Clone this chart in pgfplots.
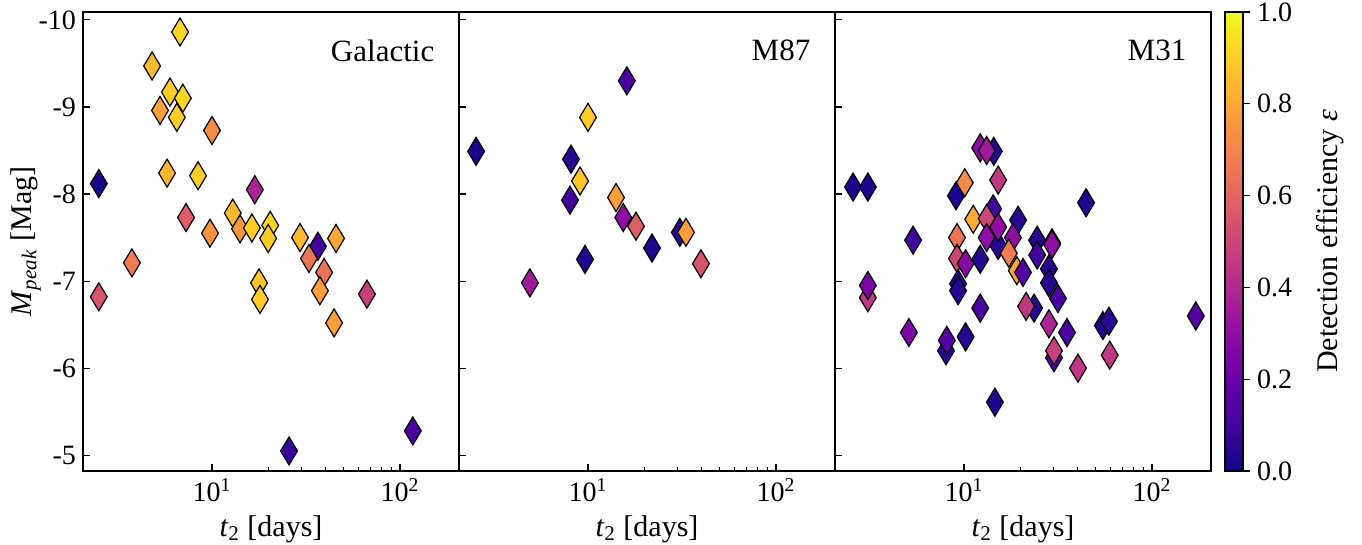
\documentclass[border=0pt]{standalone}
\usepackage{fontspec}
\setmainfont{Liberation Serif}
\usepackage{pgfplots}
\usepackage{pgfplotstable}
\pgfplotsset{compat=1.18}

\pgfplotsset{
  colormap={plasma}{
    rgb255=(13,8,135) rgb255=(65,4,157) rgb255=(106,0,168) rgb255=(143,13,164)
    rgb255=(177,42,144) rgb255=(204,71,120) rgb255=(225,100,98) rgb255=(242,132,75)
    rgb255=(252,166,54) rgb255=(252,206,37) rgb255=(240,249,33)
  },
}
\pgfplotsset{
  every axis/.append style={
    scale only axis,
    tick align=inside,
    major tick length=3.5pt, minor tick length=2pt,
    every tick/.style={black, line width=0.6pt},
    axis line style={line width=0.7pt},
    tick label style={font=\fontsize{14}{16}\selectfont},
    label style={font=\fontsize{15}{17}\selectfont},
    colormap name=plasma,
    point meta min=0, point meta max=1,
  },
}

\pgfplotstableread{
t M e
2.5 -8.12 0.02
2.5 -6.82 0.55
3.75 -7.21 0.68
4.8 -9.47 0.85
5.29 -8.96 0.78
5.98 -9.17 0.9
6.76 -9.86 0.92
7.0 -9.1 0.92
6.5 -8.88 0.9
10.0 -8.73 0.72
5.77 -8.24 0.84
8.43 -8.21 0.9
7.28 -7.73 0.58
9.76 -7.55 0.75
16.9 -8.05 0.38
12.9 -7.78 0.85
14.1 -7.6 0.76
16.3 -7.61 0.9
20.4 -7.64 0.92
19.9 -7.49 0.9
29.4 -7.5 0.85
36.6 -7.4 0.1
32.8 -7.26 0.65
45.7 -7.49 0.8
39.5 -7.1 0.65
37.5 -6.89 0.78
17.8 -6.98 0.88
18.0 -6.79 0.9
44.6 -6.52 0.78
66.7 -6.85 0.48
25.7 -5.05 0.08
117 -5.28 0.12
}\galactic

\pgfplotstableread{
t M e
2.54 -8.49 0.02
4.91 -6.98 0.35
8.12 -8.4 0.05
9.07 -8.15 0.88
8.02 -7.93 0.1
10.0 -8.88 0.9
9.64 -7.25 0.03
16.1 -9.3 0.12
14.1 -7.96 0.78
15.4 -7.73 0.3
18.0 -7.63 0.58
21.9 -7.38 0.03
30.8 -7.56 0.05
33.2 -7.56 0.78
39.9 -7.2 0.55
}\mes

\pgfplotstableread{
t M e
2.57 -8.08 0.03
3.08 -8.08 0.03
3.08 -6.81 0.45
3.08 -6.95 0.25
5.36 -7.47 0.1
5.09 -6.41 0.25
8.02 -6.2 0.05
8.1 -6.32 0.15
10.2 -6.36 0.05
9.07 -7.98 0.03
10.1 -8.13 0.72
11.2 -7.71 0.82
9.18 -7.5 0.65
9.18 -7.26 0.5
10.2 -7.2 0.28
9.3 -6.97 0.03
9.3 -6.89 0.05
12.2 -7.25 0.05
12.2 -6.69 0.12
14.4 -8.49 0.05
12.2 -8.53 0.3
13.2 -8.5 0.35
15.2 -8.16 0.45
14.3 -7.83 0.1
13.2 -7.72 0.5
13.2 -7.5 0.3
15.2 -7.41 0.05
15.2 -7.62 0.3
19.4 -7.7 0.05
18.2 -7.5 0.3
17.3 -7.32 0.68
19.1 -7.12 0.8
20.6 -7.1 0.15
24.5 -7.47 0.05
24.5 -7.3 0.1
29.4 -7.44 0.6
29.4 -7.42 0.3
28.3 -7.14 0.05
28.3 -6.98 0.05
31.6 -6.8 0.12
23.6 -6.69 0.05
21.4 -6.71 0.45
28.3 -6.51 0.38
35.3 -6.41 0.12
30.1 -6.12 0.15
30.1 -6.2 0.48
40.4 -6.0 0.45
44.6 -7.9 0.03
54.8 -6.49 0.03
59.0 -6.54 0.05
59.6 -6.15 0.45
171 -6.6 0.15
14.6 -5.61 0.03
}\mto

\begin{document}
\begin{tikzpicture}
\useasboundingbox (0,0) rectangle (681pt,272.5pt);

\begin{axis}[width=188pt, height=229.5pt, anchor=south west, at={(41.5pt,37pt)},
  xmode=log, xmin=2.06, xmax=206,
  ymin=-10.09, ymax=-4.82, y dir=reverse,
  xtick={10,100}, xticklabels={10\textsuperscript{1},10\textsuperscript{2}},
  ytick={-10,-9,-8,-7,-6,-5}, xtick pos=bottom, ytick pos=left,
  yticklabels={-10,-9,-8,-7,-6,-5},
  xlabel={\textit{t}\textsubscript{2} [days]},
  ylabel={\textit{M}\textsubscript{\textit{peak}} [Mag]},
  y label style={at={(axis description cs:-0.152,0.5)}, anchor=center}]
\addplot[only marks, scatter, point meta=explicit, mark=diamond*, mark size=7pt,
  mark options={xscale=0.8, line width=0.6pt},
  scatter/use mapped color={draw=black, fill=mapped color}]
  table[x=t, y=M, meta=e] {\galactic};
\node[anchor=north east, font=\fontsize{15.5}{17}\selectfont] at (rel axis cs:0.953,0.955) {Galactic};
\end{axis}

\begin{axis}[width=188pt, height=229.5pt, anchor=south west, at={(229.5pt,37pt)},
  xmode=log, xmin=2.06, xmax=206,
  ymin=-10.09, ymax=-4.82, y dir=reverse,
  xtick={10,100}, xticklabels={10\textsuperscript{1},10\textsuperscript{2}},
  ytick={-10,-9,-8,-7,-6,-5}, xtick pos=bottom, ytick pos=left,
  yticklabels={},
  xlabel={\textit{t}\textsubscript{2} [days]}]
\addplot[only marks, scatter, point meta=explicit, mark=diamond*, mark size=7pt,
  mark options={xscale=0.8, line width=0.6pt},
  scatter/use mapped color={draw=black, fill=mapped color}]
  table[x=t, y=M, meta=e] {\mes};
\node[anchor=north east, font=\fontsize{15.5}{17}\selectfont] at (rel axis cs:0.953,0.955) {M87};
\end{axis}

\begin{axis}[width=188pt, height=229.5pt, anchor=south west, at={(417.5pt,37pt)},
  xmode=log, xmin=2.06, xmax=206,
  ymin=-10.09, ymax=-4.82, y dir=reverse,
  xtick={10,100}, xticklabels={10\textsuperscript{1},10\textsuperscript{2}},
  ytick={-10,-9,-8,-7,-6,-5}, xtick pos=bottom, ytick pos=left,
  yticklabels={},
  xlabel={\textit{t}\textsubscript{2} [days]}]
\addplot[only marks, scatter, point meta=explicit, mark=diamond*, mark size=7pt,
  mark options={xscale=0.8, line width=0.6pt},
  scatter/use mapped color={draw=black, fill=mapped color}]
  table[x=t, y=M, meta=e] {\mto};
\node[anchor=north east, font=\fontsize{15.5}{17}\selectfont] at (rel axis cs:0.953,0.955) {M31};
\end{axis}

% colour bar
\begin{axis}[width=9pt, height=229.5pt, anchor=south west, at={(612.5pt,37pt)},
  xmin=0, xmax=1, ymin=0, ymax=1, xtick=\empty,
  ytick={0,0.2,0.4,0.6,0.8,1},
  yticklabels={0.0,0.2,0.4,0.6,0.8,1.0},
  ytick pos=right, yticklabel pos=right, tick align=outside,
  ylabel={Detection efficiency \textit{ε}},
  y label style={at={(axis description cs:5.85,0.5)}, anchor=center},
  axis on top]
\addplot[surf, shader=interp, mesh/rows=11, point meta=y] coordinates {
(0,0) (1,0)
(0,0.1) (1,0.1)
(0,0.2) (1,0.2)
(0,0.3) (1,0.3)
(0,0.4) (1,0.4)
(0,0.5) (1,0.5)
(0,0.6) (1,0.6)
(0,0.7) (1,0.7)
(0,0.8) (1,0.8)
(0,0.9) (1,0.9)
(0,1) (1,1)
};
\end{axis}
\end{tikzpicture}
\end{document}
